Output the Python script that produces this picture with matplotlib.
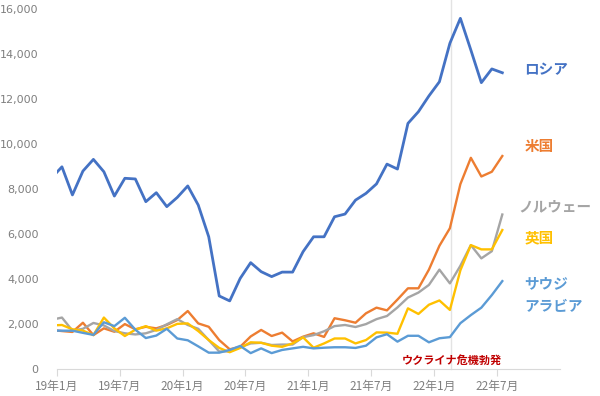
# 天然ガス輸出（国別推移）の折れ線グラフ

# モジュールの読み込み
import numpy as np
import matplotlib
matplotlib.use('Agg')
import matplotlib.pyplot as plt

plt.rcParams['font.family'] = ['Noto Sans CJK JP', 'DejaVu Sans']

# データ（2018年12月～2022年7月、月次）
months = np.arange(-1, 43) + 0.5
russia = [8500, 9000, 7750, 8810, 9330, 8780, 7700, 8490, 8460, 7450, 7850, 7230,
          7640, 8150, 7300, 5890, 3260, 3040, 4040, 4740, 4340, 4120, 4320, 4320,
          5230, 5890, 5890, 6780, 6900, 7520, 7820, 8240, 9120, 8900, 10930, 11450,
          12150, 12780, 14490, 15600, 14190, 12740, 13350, 13180]
usa = [1750, 1700, 1660, 2070, 1520, 1820, 1670, 2010, 1780, 1890, 1820, 1970,
       2190, 2590, 2040, 1890, 1300, 890, 1000, 1460, 1750, 1480, 1630, 1240,
       1450, 1600, 1440, 2270, 2180, 2070, 2490, 2740, 2620, 3100, 3600, 3600,
       4430, 5490, 6270, 8230, 9400, 8570, 8780, 9480]
norway = [2200, 2300, 1720, 1800, 2060, 1950, 1700, 1600, 1550, 1600, 1750, 2000,
          2230, 1970, 1800, 1300, 790, 800, 980, 1150, 1180, 1080, 1100, 1100,
          1430, 1520, 1690, 1920, 1970, 1880, 2010, 2230, 2370, 2750, 3190, 3410,
          3750, 4430, 3820, 4600, 5520, 4930, 5250, 6880]
uk = [1950, 1970, 1780, 1720, 1520, 2300, 1820, 1480, 1760, 1920, 1720, 1820,
      2020, 2040, 1700, 1300, 950, 760, 950, 1200, 1180, 1050, 1000, 1150,
      1420, 960, 1150, 1370, 1370, 1150, 1300, 1640, 1630, 1580, 2710, 2460,
      2870, 3060, 2640, 4400, 5520, 5330, 5330, 6190]
saudi = [1720, 1716, 1716, 1620, 1530, 2090, 1920, 2290, 1760, 1390, 1500, 1800,
         1370, 1290, 1020, 740, 740, 860, 1040, 720, 930, 720, 860, 930,
         1000, 930, 960, 980, 980, 950, 1050, 1420, 1560, 1230, 1490, 1490,
         1200, 1380, 1430, 2050, 2410, 2740, 3300, 3920]

tick_pos = [0, 6, 12, 18, 24, 30, 36, 42]
tick_labels = ['19年1月', '19年7月', '20年1月', '20年7月', '21年1月', '21年7月', '22年1月', '22年7月']
event_x = 37.65  # 2022年2月24日

# 描画
fig = plt.figure(figsize=(6, 3.96), dpi=100)
ax = fig.add_axes([0.0945, 0.0674, 0.8388, 0.9091])

ax.axvline(event_x, color='#E3E3E3', lw=1, ymax=1.03, clip_on=False, zorder=0)

ax.plot(months, russia, color='#4472C4', lw=2.0)
ax.plot(months, usa, color='#ED7D31', lw=1.7)
ax.plot(months, norway, color='#A5A5A5', lw=1.7)
ax.plot(months, uk, color='#FFC000', lw=1.7)
ax.plot(months, saudi, color='#5B9BD5', lw=1.7)

ax.set_xlim(0, 48)
ax.set_ylim(0, 16000)
ax.set_yticks(range(0, 16001, 2000))
ax.set_yticklabels(['{:,}'.format(v) for v in range(0, 16001, 2000)])
ax.set_xticks(tick_pos)
ax.set_xticklabels(tick_labels)

for s in ['left', 'top', 'right']:
    ax.spines[s].set_visible(False)
ax.spines['bottom'].set_color('#D9D9D9')
ax.tick_params(axis='y', length=0, pad=13, labelsize=8, labelcolor='#7F7F7F')
ax.tick_params(axis='x', length=5, color='#D9D9D9', pad=3, labelsize=8.5, labelcolor='#7F7F7F')
for lab in ax.get_yticklabels():
    lab.set_fontfamily('DejaVu Sans')

# 系列ラベル
kw = dict(fontsize=10.5, fontweight='bold', ha='left', va='center', clip_on=False)
ax.text(44.6, 13350, 'ロシア', color='#4472C4', **kw)
ax.text(44.6, 9920, '米国', color='#ED7D31', **kw)
ax.text(44.0, 7260, 'ノルウェー', color='#A5A5A5', **kw)
ax.text(44.6, 5880, '英国', color='#FFC000', **kw)
ax.text(44.6, 3830, 'サウジ', color='#5B9BD5', **kw)
ax.text(44.6, 2810, 'アラビア', color='#5B9BD5', **kw)

ax.text(event_x, 380, 'ウクライナ危機勃発', color='#C00000', fontsize=8,
        fontweight='bold', ha='center', va='center')

fig.savefig('out.png', dpi=100)
